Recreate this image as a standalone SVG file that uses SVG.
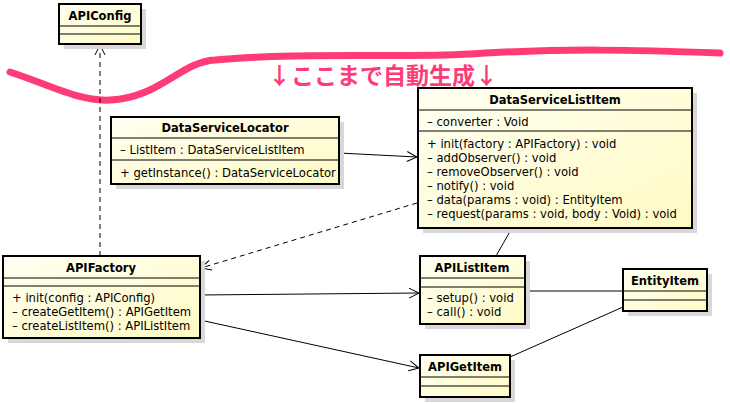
<svg xmlns="http://www.w3.org/2000/svg" width="730" height="404" viewBox="0 0 730 404">
<defs>
<linearGradient id="g" x1="0" y1="0" x2="1" y2="1"><stop offset="0" stop-color="#fffff2"/><stop offset="1" stop-color="#fffbc4"/></linearGradient>
<marker id="a" markerWidth="12" markerHeight="12" refX="11" refY="6" orient="auto" markerUnits="userSpaceOnUse"><path d="M1,1 L11,6 L1,11" fill="none" stroke="#000" stroke-width="1"/></marker>
</defs>
<style>
.sh{fill:#d8d8d8}
.b{fill:url(#g);stroke:#000;stroke-width:2}
.d{stroke:#000;stroke-width:1}
.t{font-family:"DejaVu Sans","Noto Sans",sans-serif;font-size:11.5px;font-weight:bold;text-anchor:middle}
.m{font-family:"DejaVu Sans","Noto Sans",sans-serif;font-size:11.6px}
.c{fill:none;stroke:#000;stroke-width:1}
</style>
<rect width="730" height="404" fill="#fff"/>
<path d="M10,72 C50,85 80,102 110,100 C160,98 180,62 215,60 C300,52 400,58 470,54 C560,48 640,50 720,53" fill="none" stroke="#ff3b77" stroke-width="7" stroke-linecap="round"/>
<text x="383" y="84" text-anchor="middle" font-family="'Noto Sans CJK JP',sans-serif" font-size="23" font-weight="bold" fill="#ff3b77" stroke="#fff" stroke-width="3" paint-order="stroke">↓ここまで自動生成↓</text>
<g id="connectors">
<line class="c" x1="100" y1="256" x2="100" y2="45" stroke-dasharray="5,4" marker-end="url(#a)"/>
<line class="c" x1="339" y1="153" x2="417" y2="157" marker-end="url(#a)"/>
<line class="c" x1="417" y1="203" x2="201" y2="268" stroke-dasharray="5,4" marker-end="url(#a)"/>
<line class="c" x1="512" y1="228" x2="496" y2="256"/>
<line class="c" x1="200" y1="295" x2="419" y2="293" marker-end="url(#a)"/>
<line class="c" x1="200" y1="320" x2="419" y2="368" marker-end="url(#a)"/>
<line class="c" x1="525" y1="291" x2="623" y2="291"/>
<line class="c" x1="510" y1="357" x2="623" y2="307"/>
</g>
<g id="APIConfig">
<rect class="sh" x="64" y="9" width="82" height="40"/>
<rect class="b" x="59" y="4" width="82" height="40"/>
<line class="d" x1="59" y1="26" x2="141" y2="26"/><line class="d" x1="59" y1="34" x2="141" y2="34"/>
<text class="t" x="100" y="20">APIConfig</text>
</g>
<g id="DataServiceLocator">
<rect class="sh" x="116" y="122" width="228" height="67"/>
<rect class="b" x="111" y="117" width="228" height="67"/>
<line class="d" x1="111" y1="138" x2="339" y2="138"/><line class="d" x1="111" y1="160" x2="339" y2="160"/>
<text class="t" x="225" y="132">DataServiceLocator</text>
<text class="m" x="120" y="154">– ListItem : DataServiceListItem</text>
<text class="m" x="120" y="177">+ getInstance() : DataServiceLocator</text>
</g>
<g id="DataServiceListItem">
<rect class="sh" x="423" y="93" width="274" height="140"/>
<rect class="b" x="418" y="88" width="274" height="140"/>
<line class="d" x1="418" y1="110" x2="692" y2="110"/><line class="d" x1="418" y1="131" x2="692" y2="131"/>
<text class="t" x="555" y="104">DataServiceListItem</text>
<text class="m" x="427" y="126">– converter : Void</text>
<text class="m" x="427" y="148">+ init(factory : APIFactory) : void</text>
<text class="m" x="427" y="162">– addObserver() : void</text>
<text class="m" x="427" y="176">– removeObserver() : void</text>
<text class="m" x="427" y="190">– notify() : void</text>
<text class="m" x="427" y="204">– data(params : void) : EntityItem</text>
<text class="m" x="427" y="218">– request(params : void, body : Void) : void</text>
</g>
<g id="APIFactory">
<rect class="sh" x="8" y="261" width="197" height="82"/>
<rect class="b" x="3" y="256" width="197" height="82"/>
<line class="d" x1="3" y1="278" x2="200" y2="278"/><line class="d" x1="3" y1="286" x2="200" y2="286"/>
<text class="t" x="101" y="272">APIFactory</text>
<text class="m" x="12" y="302">+ init(config : APIConfig)</text>
<text class="m" x="12" y="316">– createGetItem() : APIGetItem</text>
<text class="m" x="12" y="330">– createListItem() : APIListItem</text>
</g>
<g id="APIListItem">
<rect class="sh" x="425" y="261" width="105" height="68"/>
<rect class="b" x="420" y="256" width="105" height="68"/>
<line class="d" x1="420" y1="278" x2="525" y2="278"/><line class="d" x1="420" y1="287" x2="525" y2="287"/>
<text class="t" x="472" y="272">APIListItem</text>
<text class="m" x="427" y="302">– setup() : void</text>
<text class="m" x="427" y="316">– call() : void</text>
</g>
<g id="EntityItem">
<rect class="sh" x="628" y="274" width="84" height="42"/>
<rect class="b" x="623" y="269" width="84" height="42"/>
<line class="d" x1="623" y1="291" x2="707" y2="291"/><line class="d" x1="623" y1="300" x2="707" y2="300"/>
<text class="t" x="665" y="285">EntityItem</text>
</g>
<g id="APIGetItem">
<rect class="sh" x="425" y="360" width="90" height="42"/>
<rect class="b" x="420" y="355" width="90" height="42"/>
<line class="d" x1="420" y1="377" x2="510" y2="377"/><line class="d" x1="420" y1="386" x2="510" y2="386"/>
<text class="t" x="465" y="371">APIGetItem</text>
</g>
</svg>
